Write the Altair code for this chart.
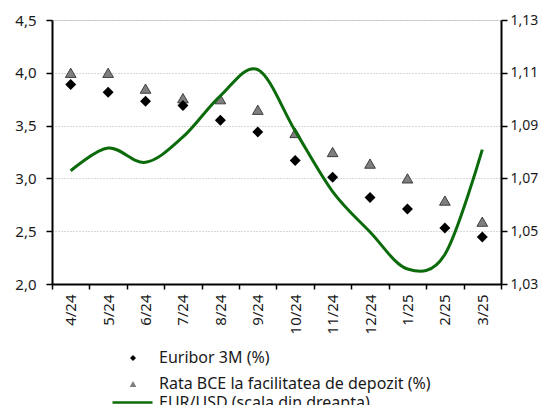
import altair as alt
import pandas as pd

months = ["4/24", "5/24", "6/24", "7/24", "8/24", "9/24", "10/24", "11/24", "12/24", "1/25", "2/25", "3/25"]
euribor = [3.89, 3.815, 3.73, 3.69, 3.55, 3.44, 3.17, 3.01, 2.82, 2.71, 2.53, 2.445]
depozit = [4.00, 4.00, 3.85, 3.76, 3.75, 3.65, 3.43, 3.25, 3.14, 3.00, 2.79, 2.59]
eurusd = [1.0729, 1.0815, 1.0761, 1.0857, 1.1013, 1.1112, 1.0880, 1.0650, 1.0497, 1.0357, 1.0412, 1.0809]

S1 = "Euribor 3M (%)"
S2 = "Rata BCE la facilitatea de depozit (%)"
S3 = "EUR/USD (scala din dreapta)"

BLACK = "#000000"
GRAY = "#7f7f7f"
GREEN = "#0b6b0b"

df1 = pd.DataFrame({"month": months, "value": euribor, "s_dia": S1})
df2 = pd.DataFrame({"month": months, "value": depozit, "s_tri": S2})
df3 = pd.DataFrame({"month": months, "value": eurusd, "s_line": S3})

FONT = "Noto Sans"
TXT = "#1a1a1a"
AX = 15
LG = 16

xenc = alt.X(
    "month:N", sort=months, title=None,
    scale=alt.Scale(type="band", domain=months, paddingInner=0, paddingOuter=0),
    axis=alt.Axis(labelAngle=-90, tickBand="extent", labelPadding=5, tickSize=5,
                  domainColor="black", domainWidth=2, tickColor="black", tickWidth=1.5,
                  labelFontSize=AX, labelColor=TXT, labelFont=FONT, grid=False),
)

yleft = alt.Y(
    "value:Q", title=None,
    scale=alt.Scale(domain=[2.0, 4.5], nice=False, zero=False),
    axis=alt.Axis(values=[2.0, 2.5, 3.0, 3.5, 4.0, 4.5],
                  labelExpr="replace(format(datum.value, '.1f'), '.', ',')",
                  grid=True, gridColor="#b0b0b0", gridDash=[1, 2], gridWidth=1,
                  domainColor="black", domainWidth=2, tickColor="black", tickWidth=1.5, tickSize=6,
                  labelFontSize=AX, labelColor=TXT, labelFont=FONT, labelPadding=10),
)

leg_common = dict(title=None, orient="none", direction="vertical", labelFontSize=LG,
                  labelFont=FONT, labelColor=TXT, labelLimit=400)

tri = alt.Chart(df2).mark_point(filled=True, size=115, color=GRAY, stroke="#222222",
                                strokeWidth=0.8, opacity=1).encode(
    x=xenc, y=yleft,
    shape=alt.Shape("s_tri:N", scale=alt.Scale(domain=[S2], range=["triangle-up"]),
                    legend=alt.Legend(legendX=73, legendY=356, symbolSize=45,
                                      symbolFillColor=GRAY, symbolStrokeColor="#222222",
                                      symbolStrokeWidth=0.8, labelOffset=18, **leg_common)),
)
dia = alt.Chart(df1).mark_point(shape="diamond", filled=True, size=120, opacity=1).encode(
    x=xenc, y=yleft,
    fill=alt.Fill("s_dia:N", scale=alt.Scale(domain=[S1], range=[BLACK]),
                  legend=alt.Legend(legendX=73, legendY=330, symbolSize=36, symbolType="diamond",
                                    symbolStrokeWidth=0, labelOffset=18, **leg_common)),
)
left = alt.layer(tri, dia)

line = alt.Chart(df3).mark_line(strokeWidth=3, interpolate="cardinal").encode(
    x=xenc,
    y=alt.Y("value:Q", title=None,
            scale=alt.Scale(domain=[1.03, 1.13], nice=False, zero=False),
            axis=alt.Axis(orient="right", values=[1.03, 1.05, 1.07, 1.09, 1.11, 1.13],
                          labelExpr="replace(format(datum.value, '.2f'), '.', ',')",
                          grid=False, domainColor="black", domainWidth=2, tickColor="black",
                          tickWidth=1.5, tickSize=6, labelFontSize=14, labelColor=TXT,
                          labelFont=FONT, labelPadding=3)),
    stroke=alt.Stroke("s_line:N", scale=alt.Scale(domain=[S3], range=[GREEN]),
                      legend=alt.Legend(legendX=59, legendY=361, symbolSize=1600, symbolType="stroke",
                                        symbolStrokeWidth=2.5, labelOffset=5, **leg_common)),
)

chart = alt.layer(left, line).resolve_scale(y="independent").properties(
    width=449, height=264,
    padding={"left": 6, "top": 5, "right": 0, "bottom": 0},
).configure_view(stroke=None).configure(font=FONT)

chart.save("out.html", embed_options={"renderer": "svg", "actions": False})
